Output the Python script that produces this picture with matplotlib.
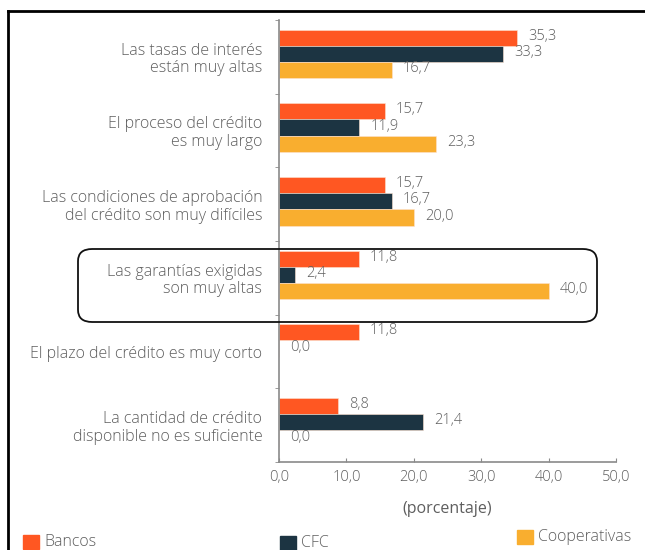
import matplotlib
matplotlib.use("Agg")
import matplotlib.pyplot as plt
import numpy as np
from matplotlib.patches import FancyBboxPatch, Rectangle
from matplotlib.lines import Line2D

categories = [
    "Las tasas de interés\nestán muy altas",
    "El proceso del crédito\nes muy largo",
    "Las condiciones de aprobación\ndel crédito son muy difíciles",
    "Las garantías exigidas\nson muy altas",
    "El plazo del crédito es muy corto",
    "La cantidad de crédito\ndisponible no es suficiente",
]
bancos = [35.3, 15.7, 15.7, 11.8, 11.8, 8.8]
cfc = [33.3, 11.9, 16.7, 2.4, 0.0, 21.4]
cooperativas = [16.7, 23.3, 20.0, 40.0, np.nan, 0.0]
series_names = ["Bancos", "CFC", "Cooperativas"]
xticks = [0, 10, 20, 30, 40, 50]

colors = ["#FF5722", "#1C3442", "#F9AE2F"]
text_col = "#5e5e5e"
axis_col = "#8a8a8a"

plt.rcParams["font.family"] = ["Open Sans", "DejaVu Sans"]
plt.rcParams["font.weight"] = "light"

fig = plt.figure(figsize=(6.45, 5.5), dpi=100)
ax = fig.add_axes([279 / 645, 1 - 462 / 550, (616 - 279) / 645, (462 - 20) / 550])

y = np.arange(len(categories))
h = 0.22
offsets = [-0.26, -0.04, 0.18]

for vals, off, col in zip([bancos, cfc, cooperativas], offsets, colors):
    for yi, v in zip(y, vals):
        if np.isnan(v):
            continue
        ax.barh(yi + off, v, height=h, color=col, edgecolor="#fde2d0", linewidth=0.4)
        ax.annotate(f"{v:.1f}".replace(".", ","), (v, yi + off),
                    xytext=(8, 1), textcoords="offset points",
                    ha="left", va="center", fontsize=10.5, color=text_col)

ax.set_xlim(0, 50)
ax.set_ylim(len(categories) - 0.5, -0.5)
ax.set_xticks(xticks)
ax.set_xticklabels([f"{t:.1f}".replace(".", ",") for t in xticks],
                   fontsize=10.5, color=text_col)
ax.set_yticks(y)
ax.set_yticklabels(categories, fontsize=11.5, color=text_col, linespacing=1.12)
ax.set_yticks(np.arange(-0.5, len(categories), 1), minor=True)
ax.tick_params(axis="y", which="major", length=0, pad=12)
ax.tick_params(axis="y", which="minor", length=3, direction="out", color=axis_col)
ax.tick_params(axis="x", length=3, direction="in", color=axis_col, pad=6)
for s in ["top", "right"]:
    ax.spines[s].set_visible(False)
for s in ["left", "bottom"]:
    ax.spines[s].set_color(axis_col)
    ax.spines[s].set_linewidth(1.2)
ax.set_xlabel("(porcentaje)", fontsize=11.5, color=text_col, labelpad=11)

# highlight box around "Las garantías exigidas"
box = FancyBboxPatch((78 / 645, 1 - 322 / 550), (597 - 78) / 645, (322 - 249) / 550,
                     boxstyle="round,pad=0,rounding_size=0.022",
                     transform=fig.transFigure, fill=False,
                     edgecolor="#111111", linewidth=1.3)
fig.add_artist(box)

# outer frame (top and left)
fig.add_artist(Line2D([8 / 645, 1], [1 - 11 / 550, 1 - 11 / 550],
                      transform=fig.transFigure, color="black", linewidth=2))
fig.add_artist(Line2D([8 / 645, 8 / 645], [0, 1 - 11 / 550],
                      transform=fig.transFigure, color="black", linewidth=2))

# legend
legend_pos = [(23, 535), (280, 536), (517, 530)]
for name, col, (lx, ly) in zip(series_names, colors, legend_pos):
    fig.add_artist(Rectangle((lx / 645, 1 - (ly + 14) / 550), 16 / 645, 14 / 550,
                             transform=fig.transFigure, color=col))
    fig.text((lx + 21) / 645, 1 - (ly + 7) / 550, name, fontsize=11.5,
             color=text_col, va="center", ha="left")

fig.savefig("out.png", dpi=100)
